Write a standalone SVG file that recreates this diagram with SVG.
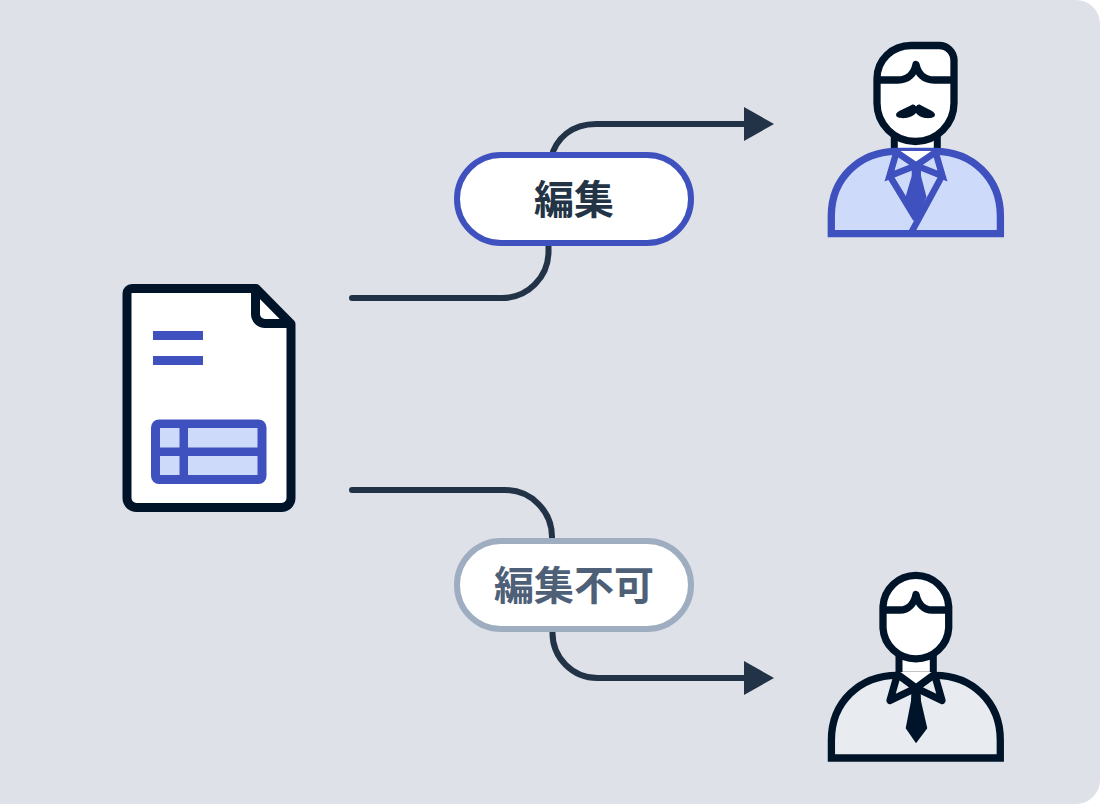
<svg xmlns="http://www.w3.org/2000/svg" width="1100" height="804" viewBox="0 0 1100 804">
<style>
.ink{fill:none;stroke:#001429;stroke-width:7.300;stroke-linejoin:round;stroke-linecap:butt}
.blue{fill:none;stroke:#3f51bf;stroke-width:6.500;stroke-linejoin:miter}
.conn{fill:none;stroke:#233347;stroke-width:6;stroke-linecap:round}
.pilltext{font-family:"Noto Sans CJK JP","Noto Sans CJK SC",sans-serif;font-weight:700;font-size:40px;text-anchor:middle}
</style>
<defs>
<marker id="arrow" markerUnits="userSpaceOnUse" markerWidth="30" markerHeight="34" refX="0" refY="17" orient="auto"><path d="M0 0L30 17L0 34Z" fill="#233347"/></marker>
</defs>
<path id="background" d="M0 0H1076A24 24 0 0 1 1100 24V780A24 24 0 0 1 1076 804H0Z" fill="#dee1e8"/>
<g id="connectors">
<path class="conn" d="M352 298H502A46.500 46.500 0 0 0 548.500 251.500V240" />
<path class="conn" d="M551 158C556 138 572 124 596 124H744" marker-end="url(#arrow)"/>
<path class="conn" d="M352 490H505A47 47 0 0 1 552 537V545"/>
<path class="conn" d="M552.500 625V633A45 45 0 0 0 597.500 678H744" marker-end="url(#arrow)"/>
</g>
<g id="document">
<path d="M132 288.500H256L291 324V498A9.500 9.500 0 0 1 281.500 507.500H136.500A9.500 9.500 0 0 1 127 498V293.500A5 5 0 0 1 132 288.500Z" fill="#fff" stroke="#001429" stroke-width="9" stroke-linejoin="round"/>
<path d="M255.500 288.500V314A9.500 9.500 0 0 0 265 323.500H291" fill="none" stroke="#001429" stroke-width="9" stroke-linejoin="round"/>
<rect x="153" y="331" width="50" height="9" fill="#3f51bf"/>
<rect x="153" y="356" width="50" height="9" fill="#3f51bf"/>
<rect x="151" y="419.500" width="115.500" height="64.500" rx="8" fill="#3f51bf"/>
<g fill="#cddafa">
<rect x="160" y="428" width="19.500" height="19.500"/>
<rect x="188" y="428" width="69.500" height="19.500"/>
<rect x="160" y="456" width="19.500" height="19"/>
<rect x="188" y="456" width="69.500" height="19"/>
</g>
</g>
<g id="pill-edit">
<rect x="457" y="155" width="234" height="88" rx="44" fill="#fff" stroke="#3f51bf" stroke-width="6"/>
<text class="pilltext" x="574" y="214" fill="#243447">編集</text>
</g>
<g id="pill-readonly">
<rect x="457" y="541" width="234" height="88" rx="44" fill="#fff" stroke="#9eadc0" stroke-width="6"/>
<text class="pilltext" x="574" y="600" fill="#4d6078">編集不可</text>
</g>
<g id="person-editor">
<path d="M894.300 125V152H937.300V125Z" fill="#fff" stroke="#001429" stroke-width="7"/>
<path d="M831.300 233.700V216C831.300 178 860 151.300 897 151.300H935C972 151.300 1000.400 178 1000.400 216V233.700Z" fill="#cddafa" stroke="#3f51bf" stroke-width="7.300"/>
<path d="M895 151L916 164L937 151Z" fill="#fff"/>
<path class="blue" d="M894 150.500L916 165.500L938 150.500M916 165.500L889.500 176L896.500 152M916 165.500L942.500 176L935.500 152"/>
<path class="blue" d="M889.500 175.500L916 219M942 176L911 233"/>
<path d="M911.700 166H921V176L926.500 197L916 222L905.500 197L911.700 176Z" fill="#3f51bf"/>
<path d="M877 103V78.500C877 60 892 45.500 911 45.500H939A15 15 0 0 1 954 60.500V103A38.500 38.500 0 0 1 877 103Z" fill="#fff" stroke="#001429" stroke-width="7.300"/>
<path class="ink" d="M877 80H898C908 80 914 74 916 64.500C918 74 924 80 934 80H954"/>
<path d="M896 114.500C896 111 909 107 911.500 105C913.500 104 915 105 916 106.500C917 105 918.500 104 920.500 105C923 107 935 111 935 114.500C935 118 930 118.500 925 118C921 117.500 918 115.500 916 113C914 115.500 910 117.500 906 118C901 118.500 896 118 896 114.500Z" fill="#001429"/>
</g>
<g id="person-viewer">
<path d="M899 650V678H933.300V650Z" fill="#fff" stroke="#001429" stroke-width="7"/>
<path d="M831.400 758V740C831.400 702 860 675.300 897 675.300H935C972 675.300 1000.300 702 1000.300 740V758Z" fill="#e8ebf0" stroke="#001429" stroke-width="7.300" stroke-linejoin="miter"/>
<path d="M899 672L916 684L933 672Z" fill="#fff"/>
<path class="ink" d="M897 674L916 688L935 674M916 688L890 700.500L897 676M916 688L942 700.500L935 676"/>
<path d="M911.500 688H920.500L921 701L927.300 728.300L916 743.300L905.700 728.300L911 701Z" fill="#001429"/>
<path d="M883 606.500A32.900 32.900 0 0 1 948.700 606.500V628A32.900 32.700 0 0 1 883 628Z" fill="#fff" stroke="#001429" stroke-width="7.300"/>
<path class="ink" d="M883 610H900C908 610 914 604 916 594.500C918 604 924 610 932 610H948.700"/>
</g>
</svg>
